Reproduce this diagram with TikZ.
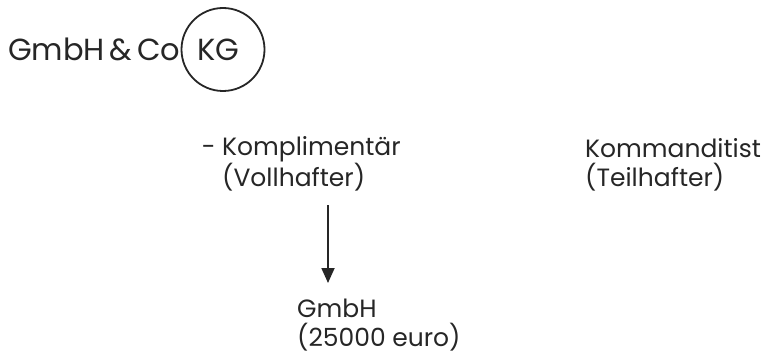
\documentclass[tikz,border=0pt]{standalone}
\usepackage{fontspec}
\setmainfont{Poppins}
\newfontfamily\bigfont{Poppins}[WordSpace=0.6]
\usetikzlibrary{arrows.meta}
\begin{document}
\begin{tikzpicture}[x=1pt,y=-1pt,
  big/.style={font=\bigfont\fontsize{30.5}{34}\selectfont, inner sep=0pt, anchor=base west, text=black!85},
  txt/.style={font=\fontsize{25}{29}\selectfont, inner sep=0pt, anchor=base west, align=left, text=black!85},
  conn/.style={line width=1.8pt, -{Triangle[length=15pt,width=13pt]}, draw=black!85}]
\useasboundingbox (0,0) rectangle (771,361);
\node[big] (gmbhco) at (8,61) {GmbH \& Co};
\draw[draw=black!85, line width=1.8pt] (223,49.5) circle[radius=41.5pt];
\node[big] (kg) at (197,61) {KG};
\node[txt] (komp) at (222,186) {\llap{- }Komplimentär\\(Vollhafter)};
\node[txt] (komm) at (585,186) {Kommanditist\\(Teilhafter)};
\node[txt] (gmbh) at (297,346) {GmbH\\(25000 euro)};
\coordinate (a1) at (328,205);
\coordinate (a2) at (328,283);
\draw[conn] (a1) -- (a2);
\end{tikzpicture}
\end{document}
